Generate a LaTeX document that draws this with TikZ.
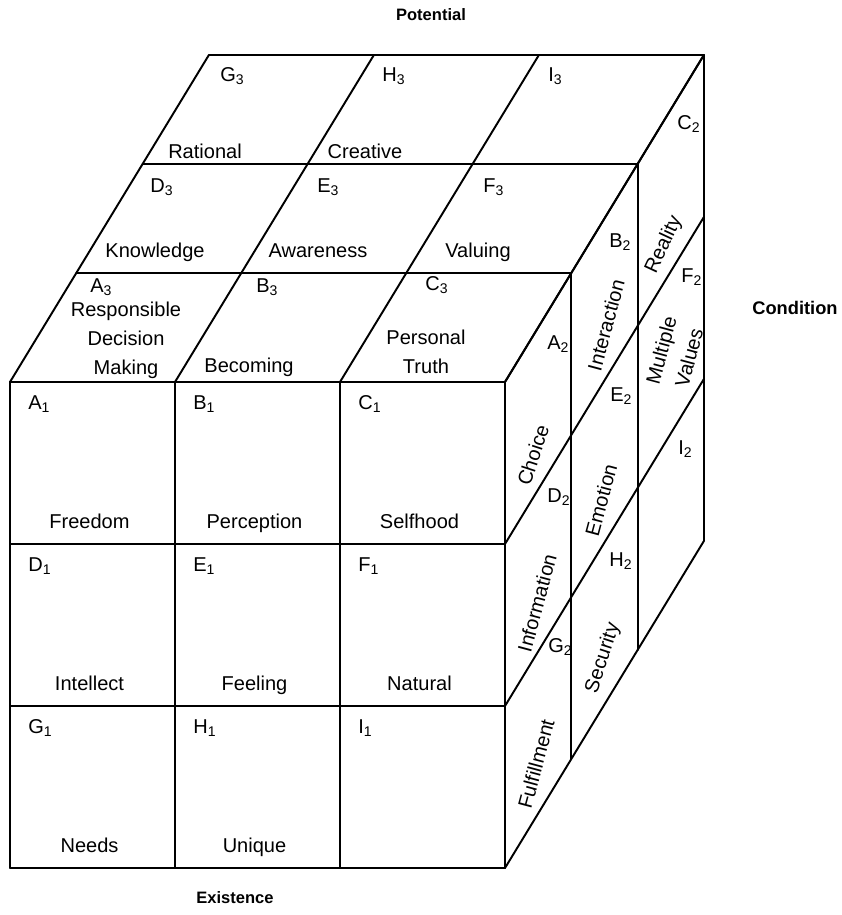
\documentclass[tikz,border=0pt]{standalone}
\usepackage{fontspec}
\setmainfont{Liberation Sans}

\begin{document}
\begin{tikzpicture}[
  font=\fontsize{11.4}{16.4}\selectfont,
  tag/.style  = {inner sep=0pt, anchor=north west},
  word/.style = {inner sep=0pt, anchor=base},
  side/.style = {inner sep=0pt, align=center, rotate=#1},
  axis/.style = {inner sep=0pt, font=\fontsize{9.4}{11}\selectfont\bfseries},
  edge/.style = {line width=1.1pt, line cap=round, line join=round},
]

\def\cW{3.3} \def\cH{3.24}
\def\dX{1.326} \def\dY{2.18}
\def\fW{3*\cW} \def\fH{3*\cH}

\useasboundingbox (-0.2,-0.94) rectangle (16.64,17.36);

\foreach \i in {0,...,3}{
  \draw[edge] (\i*\cW,0) -- (\i*\cW,\fH);
  \draw[edge] (0,\i*\cH) -- (\fW,\i*\cH);
  \draw[edge] (\i*\cW,\fH) -- ++(3*\dX,3*\dY);
  \draw[edge] (\i*\dX,\fH+\i*\dY) -- ++(\fW,0);
  \draw[edge] (\fW,\i*\cH) -- ++(3*\dX,3*\dY);
  \draw[edge] (\fW+\i*\dX,\i*\dY) -- ++(0,\fH);
}

\foreach \t/\c/\r in {A/0/3,B/1/3,C/2/3,D/0/2,E/1/2,F/2/2,G/0/1,H/1/1,I/2/1}
  \node[tag] (\t1) at (\c*\cW+0.36,\r*\cH-0.27) {\t\textsubscript{1}};

\foreach \w/\c/\r in {Freedom/0/2,Perception/1/2,Selfhood/2/2,
                      Intellect/0/1,Feeling/1/1,Natural/2/1,
                      Needs/0/0,Unique/1/0}
  \node[word] (\w) at (\c*\cW+\cW/2-0.06,\r*\cH+0.31) {\w};

\foreach \t/\x/\y in {A/1.60/11.80,B/4.92/11.80,C/8.30/11.84,
                      D/2.80/13.80,E/6.14/13.80,F/9.46/13.80,
                      G/4.20/16.02,H/7.44/16.02,I/10.76/16.02}
  \node[tag] (\t3) at (\x,\y) {\t\textsubscript{3}};

\foreach \w/\x/\y in {Rational/3.90/14.18,Creative/7.10/14.18,
                      Knowledge/2.90/12.20,Awareness/6.16/12.20,
                      Valuing/9.36/12.20,Becoming/4.78/9.90}
  \node[word] (\w) at (\x,\y) {\w};

\node[inner sep=0pt,align=center,anchor=north] (Responsible) at (2.32,11.32)
  {Responsible\\Decision\\Making};
\node[inner sep=0pt,align=center,anchor=north] (Personal) at (8.32,10.76)
  {Personal\\Truth};

\foreach \t/\x/\y in {A/10.74/10.66,B/11.98/12.70,C/13.34/15.06,
                      D/10.74/7.60,E/12.00/9.62,F/13.42/12.00,
                      G/10.76/4.60,H/11.98/6.32,I/13.36/8.56}
  \node[tag] (\t2) at (\x,\y) {\t\textsubscript{2}};

\foreach \w/\x/\y/\a in {Choice/10.46/8.26/72,Information/10.54/5.30/75,
                         Fulfillment/10.52/2.08/75,Interaction/11.92/10.86/75,
                         Emotion/11.82/7.36/75,Security/11.86/4.20/72,
                         Reality/13.08/12.46/65}
  \node[side=\a] (\w) at (\x,\y) {\w};
\node[side=75] (Multiple) at (13.30,10.28) {Multiple\\Values};

\node[axis] (potential) at (8.42,17.06) {Potential};
\node[axis] (existence) at (4.50,-0.60) {Existence};
\node[axis,font=\fontsize{10.4}{12}\selectfont\bfseries] (condition) at (15.70,11.20) {Condition};

\end{tikzpicture}
\end{document}
